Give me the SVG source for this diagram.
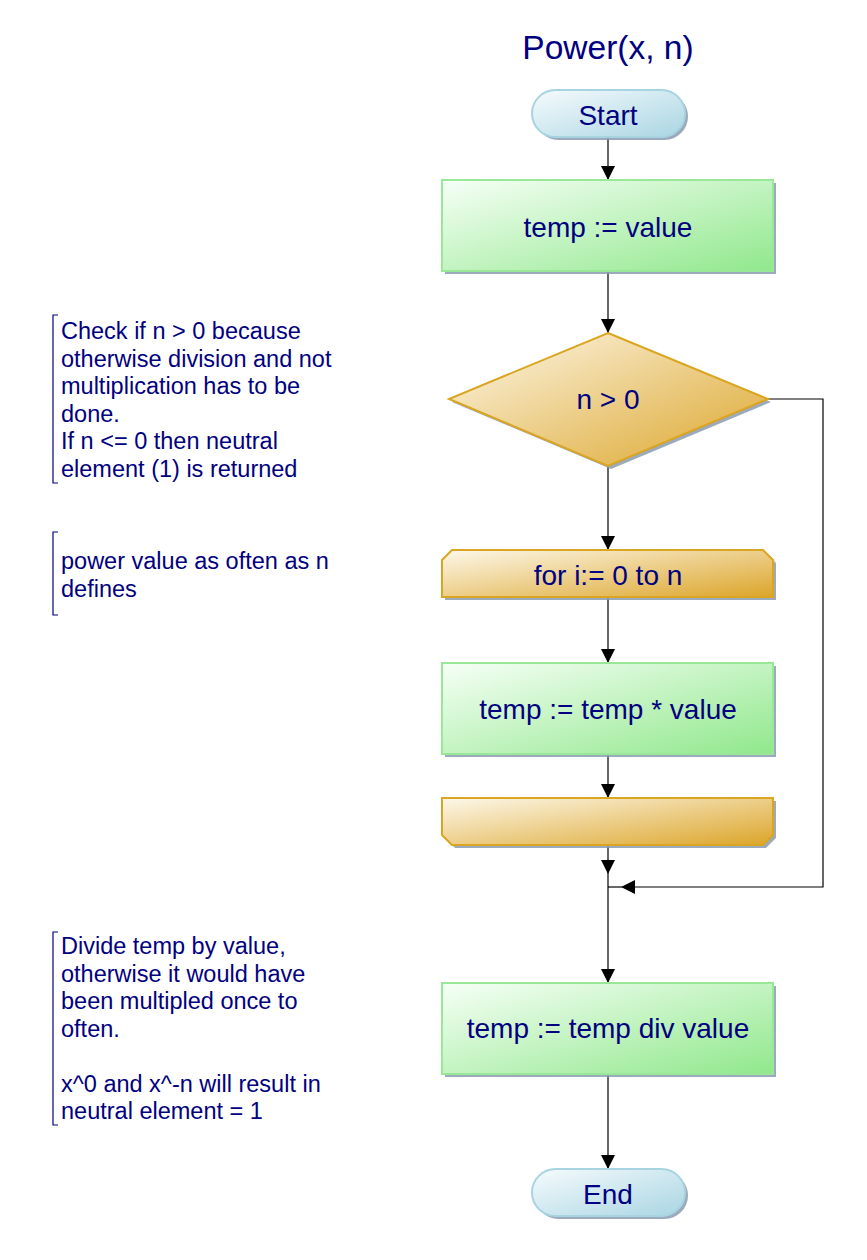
<svg xmlns="http://www.w3.org/2000/svg" width="867" height="1260" viewBox="0 0 867 1260">
<style>
  text { font-family: "Liberation Sans", Arial, sans-serif; fill: #000080; }
  .title { font-size: 33.5px; text-anchor: middle; }
  .node { font-size: 28px; text-anchor: middle; }
  .note { font-size: 23.5px; }
  .conn { fill: none; stroke: #000; stroke-width: 1.2; }
  .brk { fill: none; stroke: #000080; stroke-width: 1.2; }
  .shadow { fill: #8a9bb0; opacity: 0.85; }
  .proc { fill: url(#gGreen); stroke: #98e898; stroke-width: 2; }
  .term { fill: url(#gBlue); stroke: #a8d4e2; stroke-width: 2; }
  .gold { fill: url(#gGold); stroke: #daa520; stroke-width: 2; }
</style>
<defs>
  <linearGradient id="gGreen" x1="0" y1="0" x2="1" y2="1">
    <stop offset="0" stop-color="#f6fff6"/>
    <stop offset="1" stop-color="#90e88c"/>
  </linearGradient>
  <linearGradient id="gBlue" x1="0" y1="0" x2="1" y2="1">
    <stop offset="0" stop-color="#f6fbfd"/>
    <stop offset="1" stop-color="#a9d5e3"/>
  </linearGradient>
  <linearGradient id="gGold" x1="0" y1="0" x2="1" y2="1">
    <stop offset="0" stop-color="#fdf8ea"/>
    <stop offset="1" stop-color="#dca52a"/>
  </linearGradient>
  <marker id="arr" viewBox="0 0 14 14" refX="14" refY="7" markerWidth="14" markerHeight="14" markerUnits="userSpaceOnUse" orient="auto">
    <path d="M0,0 L14,7 L0,14 Z" fill="#000"/>
  </marker>
</defs>
<rect width="867" height="1260" fill="#fff"/>

<text class="title" x="608" y="59">Power(x, n)</text>

<g id="connectors">
  <path class="conn" d="M608,137 V180" marker-end="url(#arr)"/>
  <path class="conn" d="M608,271 V333" marker-end="url(#arr)"/>
  <path class="conn" d="M608,466 V550" marker-end="url(#arr)"/>
  <path class="conn" d="M608,597 V663" marker-end="url(#arr)"/>
  <path class="conn" d="M608,754 V798" marker-end="url(#arr)"/>
  <path class="conn" d="M608,845 V874" marker-end="url(#arr)"/>
  <path class="conn" d="M608,874 V983" marker-end="url(#arr)"/>
  <path class="conn" d="M608,1074 V1169" marker-end="url(#arr)"/>
  <path class="conn" d="M768,399 H823 V887 H621" marker-end="url(#arr)"/>
  <path class="conn" d="M608,887 H621"/>
</g>

<g id="start">
  <rect class="shadow" x="535" y="93" width="153" height="47" rx="23.5"/>
  <rect class="term" x="532" y="90" width="153" height="47" rx="23.5"/>
  <text class="node" x="608" y="125">Start</text>
</g>

<g id="init">
  <rect class="shadow" x="445" y="183" width="331" height="91"/>
  <rect class="proc" x="442" y="180" width="331" height="91"/>
  <text class="node" x="608" y="237">temp := value</text>
</g>

<g id="decision">
  <polygon class="shadow" points="611,336 771,402 611,469 452,402"/>
  <polygon class="gold" points="608,333 768,399 608,466 449,399"/>
  <text class="node" x="608" y="409">n &gt; 0</text>
</g>

<g id="loopStart">
  <polygon class="shadow" points="455,553 766,553 776,563 776,600 445,600 445,563"/>
  <polygon class="gold" points="452,550 763,550 773,560 773,597 442,597 442,560"/>
  <text class="node" x="608" y="585">for i:= 0 to n</text>
</g>

<g id="multiply">
  <rect class="shadow" x="445" y="666" width="331" height="91"/>
  <rect class="proc" x="442" y="663" width="331" height="91"/>
  <text class="node" x="608" y="719">temp := temp * value</text>
</g>

<g id="loopEnd">
  <polygon class="shadow" points="445,801 776,801 776,838 766,848 455,848 445,838"/>
  <polygon class="gold" points="442,798 773,798 773,835 763,845 452,845 442,835"/>
</g>

<g id="divide">
  <rect class="shadow" x="445" y="986" width="331" height="91"/>
  <rect class="proc" x="442" y="983" width="331" height="91"/>
  <text class="node" x="608" y="1038">temp := temp div value</text>
</g>

<g id="end">
  <rect class="shadow" x="535" y="1172" width="153" height="47" rx="23.5"/>
  <rect class="term" x="532" y="1169" width="153" height="47" rx="23.5"/>
  <text class="node" x="608" y="1204">End</text>
</g>

<g id="note1">
  <path class="brk" d="M58,315 H53 V483 H58"/>
  <text class="note" x="61" y="339">Check if n &gt; 0 because</text>
  <text class="note" x="61" y="366.5">otherwise division and not</text>
  <text class="note" x="61" y="394">multiplication has to be</text>
  <text class="note" x="61" y="421.5">done.</text>
  <text class="note" x="61" y="449">If n &lt;= 0 then neutral</text>
  <text class="note" x="61" y="476.5">element (1) is returned</text>
</g>

<g id="note2">
  <path class="brk" d="M58,532 H53 V615 H58"/>
  <text class="note" x="61" y="569">power value as often as n</text>
  <text class="note" x="61" y="596.5">defines</text>
</g>

<g id="note3">
  <path class="brk" d="M58,932 H53 V1125 H58"/>
  <text class="note" x="61" y="954">Divide temp by value,</text>
  <text class="note" x="61" y="981.5">otherwise it would have</text>
  <text class="note" x="61" y="1009">been multipled once to</text>
  <text class="note" x="61" y="1036.5">often.</text>
  <text class="note" x="61" y="1091.5">x^0 and x^-n will result in</text>
  <text class="note" x="61" y="1119">neutral element = 1</text>
</g>
</svg>
